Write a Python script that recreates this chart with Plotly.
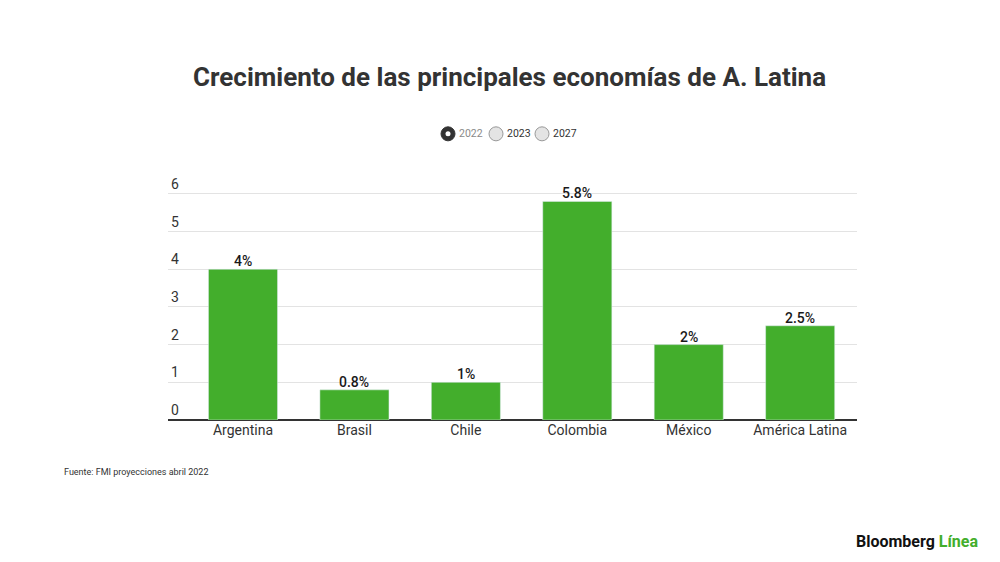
import plotly.graph_objects as go

categories = ["Argentina", "Brasil", "Chile", "Colombia", "México", "América Latina"]
values_2022 = [4.0, 0.8, 1.0, 5.8, 2.0, 2.5]
value_labels = ["4%", "0.8%", "1%", "5.8%", "2%", "2.5%"]
years = ["2022", "2023", "2027"]
y_ticks = [0, 1, 2, 3, 4, 5, 6]

GREEN = "#43ae2c"
FONT = "Roboto"

fig = go.Figure()
fig.add_trace(go.Bar(
    x=categories, y=values_2022, marker_color=GREEN, width=0.62,
    hoverinfo="skip",
))

# value labels above bars
for cat, val, lab in zip(categories, values_2022, value_labels):
    fig.add_annotation(
        x=cat, y=val, text=lab, xref="x", yref="y", showarrow=False,
        yanchor="bottom", yshift=-2,
        font=dict(family=FONT, size=14, color="#1a1a1a", weight=500),
    )

W, H = 1000, 562
L, R, B = 168, 857, 420
UNIT = 37.67
YMAX = 6.5
T = B - YMAX * UNIT

fig.update_layout(
    width=W, height=H,
    margin=dict(l=L, r=W - R, t=T, b=H - B),
    paper_bgcolor="white", plot_bgcolor="white",
    showlegend=False,
    font=dict(family=FONT, color="#333"),
    xaxis=dict(
        range=[-0.673, 5.51], showgrid=False, zeroline=False,
        showline=False, ticks="", tickfont=dict(size=14, color="#333"),
        fixedrange=True,
    ),
    yaxis=dict(
        range=[0, YMAX], tickvals=y_ticks, showgrid=True, gridcolor="#e3e3e3",
        gridwidth=1, zeroline=True, zerolinecolor="#333", zerolinewidth=1.5,
        ticklabelposition="inside top", tickfont=dict(size=14, color="#333"),
        ticks="", showline=False, fixedrange=True,
    ),
)


def px_x(px):
    return (px - L) / (R - L)


def px_y(py):
    return (B - py) / (B - T)


# Title
fig.add_annotation(
    text="<b>Crecimiento de las principales economías de A. Latina</b>",
    xref="paper", yref="paper", x=px_x(509), y=px_y(77),
    xanchor="center", yanchor="middle", showarrow=False,
    font=dict(family=FONT, size=26, color="#333"),
)

# Radio-button style legend
radio_x = [448, 496, 542]
for i, yr in enumerate(years):
    cx = radio_x[i]
    cy = 134
    r = 7
    if i == 0:
        fig.add_shape(type="circle", xref="paper", yref="paper",
                      x0=px_x(cx - r), x1=px_x(cx + r), y0=px_y(cy + r), y1=px_y(cy - r),
                      fillcolor="#333", line=dict(color="#333", width=1))
        fig.add_shape(type="circle", xref="paper", yref="paper",
                      x0=px_x(cx - 2.5), x1=px_x(cx + 2.5), y0=px_y(cy + 2.5), y1=px_y(cy - 2.5),
                      fillcolor="white", line=dict(color="white", width=0))
        col = "#8a8a8a"
    else:
        fig.add_shape(type="circle", xref="paper", yref="paper",
                      x0=px_x(cx - r), x1=px_x(cx + r), y0=px_y(cy + r), y1=px_y(cy - r),
                      fillcolor="#e4e4e4", line=dict(color="#999", width=1))
        col = "#333"
    fig.add_annotation(text=yr, xref="paper", yref="paper",
                       x=px_x(cx + 10), y=px_y(cy), xanchor="left", yanchor="middle",
                       showarrow=False, borderpad=0,
                       font=dict(family=FONT, size=10.5, color=col))

# Source
fig.add_annotation(
    text="Fuente: FMI proyecciones abril 2022", xref="paper", yref="paper",
    x=px_x(62), y=px_y(472), xanchor="left", yanchor="middle", showarrow=False,
    font=dict(family=FONT, size=9, color="#333"),
)

# Logo
fig.add_annotation(
    text="<b>Bloomberg</b> <b><span style='color:#43ae2c'>Línea</span></b>",
    xref="paper", yref="paper", x=px_x(980), y=px_y(541),
    xanchor="right", yanchor="middle", showarrow=False,
    font=dict(family=FONT, size=16, color="#111"),
)

fig.write_html("out.html", config={"displayModeBar": False},
               post_script="document.body.style.margin='0';")
